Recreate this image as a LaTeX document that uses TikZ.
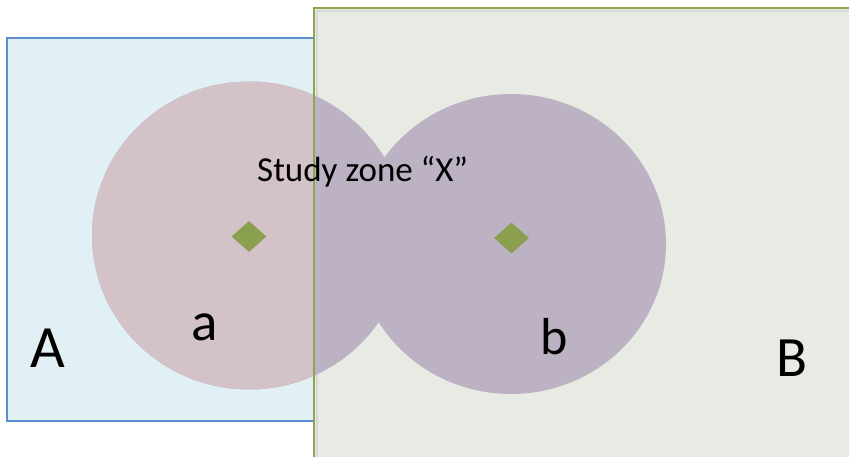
\documentclass[tikz,border=0pt]{standalone}
\usepackage{fontspec}
\setmainfont{Carlito}
\usetikzlibrary{shapes.geometric}
\definecolor{afill}{HTML}{E1F0F5}
\definecolor{aline}{HTML}{5A8ED0}
\definecolor{bfill}{HTML}{E8EAE4}
\definecolor{bline}{HTML}{8CA652}
\definecolor{pinkc}{HTML}{D3C2C7}
\definecolor{purplec}{HTML}{BCB2C4}
\definecolor{diamc}{HTML}{8AA04E}
\definecolor{shadowc}{HTML}{D6D8D2}
\tikzset{
  zonebox/.style={rectangle, anchor=north west, inner sep=0pt, outer sep=0pt},
  marker/.style={diamond, fill=diamc, inner sep=0pt, minimum width=35pt, minimum height=31pt},
  lbl/.style={inner sep=0pt, anchor=base, text=black},
  bedge/.style={bline, line width=2.5pt}
}
\begin{document}
\begin{tikzpicture}[x=1pt,y=1pt]
\useasboundingbox (0,0) rectangle (849,457);
\clip (0,0) rectangle (849,457);
\fill[white] (0,0) rectangle (849,457);
% rectangle A
\node[zonebox, draw=aline, fill=afill, line width=2pt, minimum width=307pt, minimum height=383pt] (A) at (7,419) {};
% rectangle B (extends beyond the right and bottom edges)
\node[zonebox, fill=bfill, minimum width=700pt, minimum height=600pt] (B) at (314,449) {};
\draw[shadowc, line width=2pt] ([xshift=3pt,yshift=-3pt]B.north west) -- ([xshift=3pt]B.south west);
\draw[shadowc, line width=2pt] ([xshift=3pt,yshift=-3pt]B.north west) -- ([yshift=-3pt]B.north east);
\draw[bedge] (B.south west) -- (B.north west) -- (B.north east);
% circles
\fill[purplec] (249,221.5) ellipse [x radius=157, y radius=154];
\begin{scope}
\clip (0,0) rectangle (314,457);
\fill[pinkc] (249,221.5) ellipse [x radius=157, y radius=154];
\end{scope}
\fill[purplec] (511,213) ellipse [x radius=155, y radius=150];
% left border of B on top
\draw[bedge] (B.north west) -- (B.south west);
% markers
\node[marker] (ma) at (249,220.5) {};
\node[marker] (mb) at (511.5,219) {};
% labels
\node[inner sep=0pt, anchor=base west, font=\fontsize{35}{40}\selectfont] (zone) at (257,275) {Study zone “X”};
\node[lbl, font=\fontsize{60}{66}\selectfont] (la) at (47.5,89) {A};
\node[lbl, font=\fontsize{57}{62}\selectfont] (lb) at (791.5,80) {B};
\node[lbl, font=\fontsize{55}{60}\selectfont] (sa) at (204.7,116) {a};
\node[lbl, font=\fontsize{52}{58}\selectfont] (sb) at (554,102) {b};
\end{tikzpicture}
\end{document}
